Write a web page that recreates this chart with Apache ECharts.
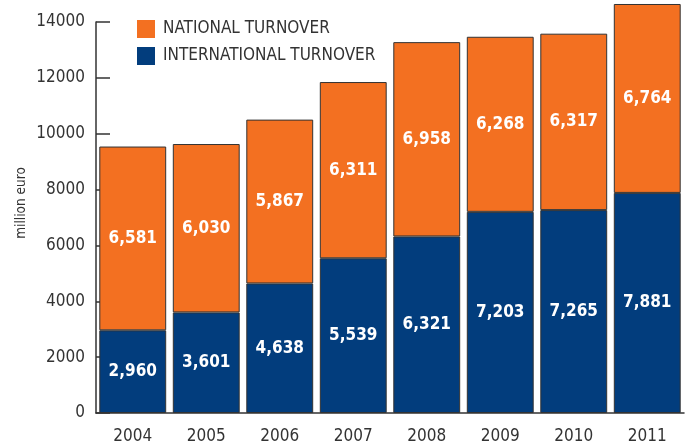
<!DOCTYPE html>
<html><head><meta charset="utf-8">
<script src="https://cdn.jsdelivr.net/npm/echarts@6/dist/echarts.min.js"></script>
<style>html,body{margin:0;padding:0;background:#fff}#c{width:691px;height:448px}</style>
</head><body><div id="c"></div>
<script>
const years = ['2004','2005','2006','2007','2008','2009','2010','2011'];
const international = [2960, 3601, 4638, 5539, 6321, 7203, 7265, 7881];
const national = [6581, 6030, 5867, 6311, 6958, 6268, 6317, 6764];
const yTicks = [0, 2000, 4000, 6000, 8000, 10000, 12000, 14000];
const yName = 'million euro';

const FONT = '"DejaVu Sans Condensed", "Roboto", sans-serif';
const ORANGE = '#F37021';
const BLUE = '#023D7D';

const chart = echarts.init(document.getElementById('c'));
const labelStyle = {
  show: true, position: 'inside', color: '#fff', fontWeight: 'bold',
  fontSize: 17, fontFamily: FONT,
  formatter: p => p.value.toLocaleString('en-US')
};
chart.setOption({
  animation: false,
  grid: { left: 96, right: 7, top: 22, bottom: 35 },
  graphic: [{
    type: 'text', x: 21, y: 203, rotation: Math.PI / 2,
    style: { text: yName, fill: '#333', font: '13.5px ' + FONT, align: 'center', verticalAlign: 'middle' }
  }],
  legend: {
    orient: 'vertical', left: 137, top: 20, padding: 0, itemWidth: 18, itemHeight: 18, itemGap: 9,
    icon: 'rect',
    data: ['NATIONAL TURNOVER', 'INTERNATIONAL TURNOVER'],
    itemStyle: { borderWidth: 0 },
    textStyle: { color: '#333', fontSize: 17, fontFamily: FONT, padding: [0, 0, 0, 3] }
  },
  xAxis: {
    type: 'category', data: years,
    axisLine: { lineStyle: { color: '#333', width: 1.5 } },
    axisTick: { inside: true, length: 5, lineStyle: { color: '#333' } },
    axisLabel: { color: '#333', fontSize: 17, fontFamily: FONT, margin: 15 }
  },
  yAxis: {
    type: 'value', min: 0, max: 14000, interval: 2000,
    axisLine: { show: true, lineStyle: { color: '#333', width: 1.5 } },
    axisTick: { show: true, inside: true, length: 14, lineStyle: { color: '#333', width: 1.5 } },
    splitLine: { show: false },
    axisLabel: { color: '#333', fontSize: 17, fontFamily: FONT, margin: 11,
      formatter: v => yTicks.includes(v) ? String(v) : '' }
  },
  series: [
    { name: 'INTERNATIONAL TURNOVER', type: 'bar', stack: 't', data: international,
      barWidth: '91%', clip: false,
      itemStyle: { color: BLUE, borderColor: '#333', borderWidth: 1 }, label: labelStyle },
    { name: 'NATIONAL TURNOVER', type: 'bar', stack: 't', data: national,
      barWidth: '91%', clip: false,
      itemStyle: { color: ORANGE, borderColor: '#333', borderWidth: 1 }, label: labelStyle }
  ]
});
</script></body></html>
